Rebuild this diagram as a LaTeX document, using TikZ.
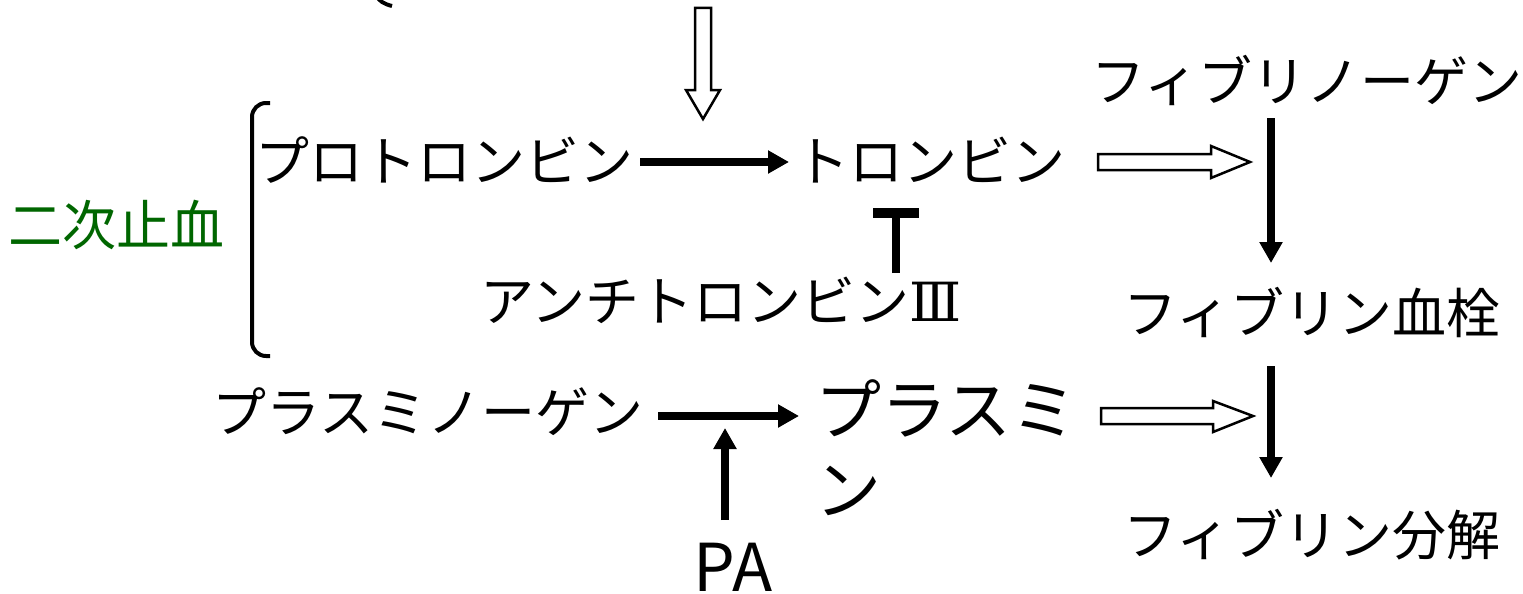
\documentclass[tikz,border=0pt]{standalone}
\usepackage{fontspec}
\setmainfont{Noto Sans CJK JP}
\newfontfamily\romfont{DejaVu Serif}
\usetikzlibrary{arrows.meta}
\definecolor{kgreen}{RGB}{0,102,0}
\tikzset{
  lbl/.style={inner sep=0pt, outer sep=0pt, font=\fontsize{54}{60}\selectfont},
  big/.style={inner sep=0pt, outer sep=0pt, font=\fontsize{66}{80}\selectfont, align=left},
  solidarrow/.style={line width=8pt, -{Triangle[length=21pt,width=22pt]}},
  openarrow/.style={draw=black, line width=2.5pt, fill=white, line join=miter},
}
\begin{document}
\begin{tikzpicture}[x=1pt,y=-1pt]
\useasboundingbox (0,0) rectangle (1523,594);
% text nodes
\node[lbl, text=kgreen] (niji) at (117,225) {二次止血};
\node[lbl] (pro) at (444,160) {プロトロンビン};
\node[lbl] (thr) at (930,160) {トロンビン};
\node[lbl] (at3) at (721,300) {アンチトロンビン{\romfont Ⅲ}};
\node[lbl] (fbg) at (1307,80) {フィブリノーゲン};
\node[lbl] (clot) at (1312,312) {フィブリン血栓};
\node[lbl] (lysis) at (1312,535) {フィブリン分解};
\node[lbl] (plg) at (428,412) {プラスミノーゲン};
\node[big, anchor=north west] (pls) at (815,380) {プラスミ\\ン};
\node[big, anchor=base, text depth=0pt, text height=48pt] (pa) at (733,591) {PA};
% coordinates
\coordinate (a1s) at (640,162);
\coordinate (a1e) at (789,162);
\coordinate (a2s) at (658,416);
\coordinate (a2e) at (799,416);
\coordinate (pas) at (725,520);
\coordinate (pae) at (725,428);
\coordinate (d1s) at (1271,118);
\coordinate (d1e) at (1271,263);
\coordinate (d2s) at (1271,366);
\coordinate (d2e) at (1271,478);
\coordinate (tb) at (896,273);
\coordinate (tt) at (896,213);
% solid arrows
\draw[solidarrow] (a1s) -- (a1e);
\draw[solidarrow] (a2s) -- (a2e);
\draw[solidarrow] (pas) -- (pae);
\draw[solidarrow] (d1s) -- (d1e);
\draw[solidarrow] (d2s) -- (d2e);
% inhibition T
\draw[line width=8pt] (tb) -- (tt);
\draw[line width=10pt] (873,213) -- (919,213);
% open arrows
\draw[openarrow] (1098,154) -- (1211,154) -- (1211,146) -- (1250,162) -- (1211,178) -- (1211,170) -- (1098,170) -- cycle;
\draw[openarrow] (1101,408) -- (1213,408) -- (1213,401) -- (1253,416) -- (1213,432) -- (1213,424) -- (1101,424) -- cycle;
\draw[openarrow] (695,8) -- (711,8) -- (711,90) -- (720,90) -- (703,119) -- (686,90) -- (695,90) -- cycle;
% bracket
\draw[line width=4pt, rounded corners=14pt] (270,103) -- (252,103) -- (252,356) -- (270,356);
% partial bracket at top
\draw[line width=4pt] (377,-4) .. controls (379,1) and (384,4) .. (392,6);
\end{tikzpicture}
\end{document}
